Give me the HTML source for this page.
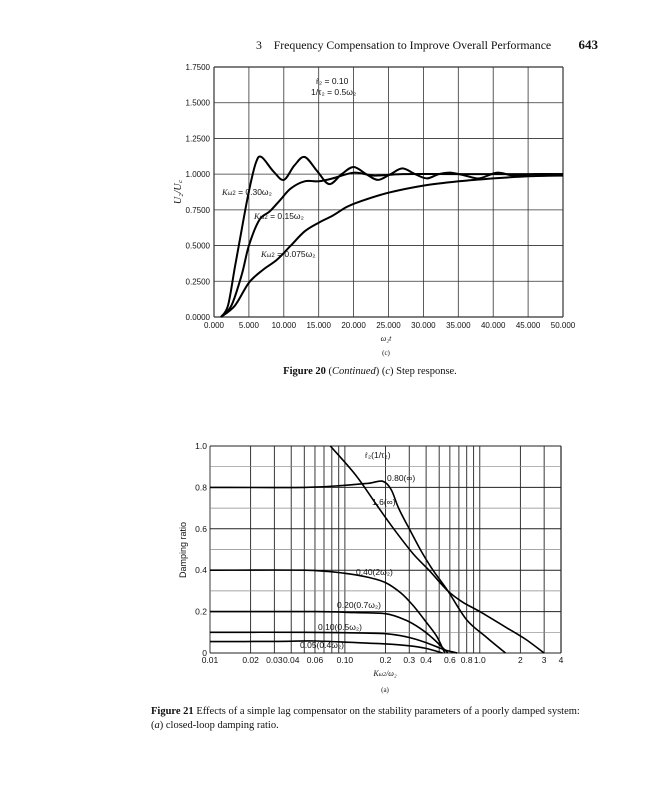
<!DOCTYPE html>
<html><head><meta charset="utf-8"><style>
html,body{margin:0;padding:0;background:#fff;}
svg{display:block;}
text{font-family:"Liberation Sans",sans-serif;fill:#111;}
.serif{font-family:"Liberation Serif",serif;}
</style></head><body>
<svg id="s" width="647" height="800" viewBox="0 0 647 800" xmlns="http://www.w3.org/2000/svg">
<rect width="647" height="800" fill="#fff"/>
<text x="256" y="49" class="serif" font-size="11.8" xml:space="preserve">3    Frequency Compensation to Improve Overall Performance</text>
<text x="598" y="49" class="serif" font-size="13" font-weight="bold" text-anchor="end">643</text>
<g id="top"></g>
<g id="bot"></g>
<text x="316" y="84" font-size="8.5">ṙ₂ = 0.10</text>
<text x="311" y="95" font-size="8.5">1/τ₂ = 0.5ω₂</text>
<text x="222" y="195" font-size="8.5"><tspan font-style="italic" class="serif">K</tspan><tspan font-size="6">ω2</tspan> = 0.30ω₂</text>
<text x="254" y="219" font-size="8.5"><tspan font-style="italic" class="serif">K</tspan><tspan font-size="6">ω2</tspan> = 0.15ω₂</text>
<text x="261" y="257" font-size="8.5"><tspan font-style="italic" class="serif">K</tspan><tspan font-size="6">ω2</tspan> = 0.075ω₂</text>
<text x="181" y="192" font-size="10" class="serif" font-style="italic" transform="rotate(-90 181 192)" text-anchor="middle">U₂/U꜀</text>
<text x="386" y="341" font-size="8" text-anchor="middle" class="serif" font-style="italic">ω₂t</text>
<text x="386" y="355" font-size="7" text-anchor="middle" class="serif">(c)</text>
<text x="370" y="374" font-size="10.5" text-anchor="middle" class="serif"><tspan font-weight="bold">Figure 20</tspan>  (<tspan font-style="italic">Continued</tspan>) (<tspan font-style="italic">c</tspan>) Step response.</text>
<text x="186" y="550" font-size="9" transform="rotate(-90 186 550)" text-anchor="middle">Damping ratio</text>
<text x="365" y="458" font-size="8.5">ṙ₂(1/τ₂)</text>
<text x="387" y="481" font-size="8.5">0.80(∞)</text>
<text x="372" y="505" font-size="8.5">1.6(∞)</text>
<text x="356" y="575" font-size="8.5">0.40(2ω₂)</text>
<text x="337" y="608" font-size="8.5">0.20(0.7ω₂)</text>
<text x="318" y="630" font-size="8.5">0.10(0.5ω₂)</text>
<text x="300" y="648" font-size="8.5">0.05(0.4ω₂)</text>
<text x="385" y="676" font-size="8" text-anchor="middle" class="serif" font-style="italic">K<tspan font-size="6">ω2</tspan>/ω₂</text>
<text x="385" y="692" font-size="7" text-anchor="middle" class="serif">(a)</text>
<text x="151" y="714" font-size="10.5" class="serif"><tspan font-weight="bold">Figure 21</tspan>   Effects of a simple lag compensator on the stability parameters of a poorly damped system:</text>
<text x="151" y="728" font-size="10.5" class="serif">(<tspan font-style="italic">a</tspan>) closed-loop damping ratio.</text>
</svg>
<script>
var NS="http://www.w3.org/2000/svg";
function el(p,t,a,txt){var e=document.createElementNS(NS,t);for(var k in a)e.setAttribute(k,a[k]);if(txt!==undefined)e.textContent=txt;p.appendChild(e);return e;}
function cr(pts){var d="M"+pts[0][0].toFixed(1)+","+pts[0][1].toFixed(1);for(var i=0;i<pts.length-1;i++){var p0=pts[i-1]||pts[i],p1=pts[i],p2=pts[i+1],p3=pts[i+2]||p2;
var c1=[p1[0]+(p2[0]-p0[0])/6,p1[1]+(p2[1]-p0[1])/6],c2=[p2[0]-(p3[0]-p1[0])/6,p2[1]-(p3[1]-p1[1])/6];
d+=" C"+c1[0].toFixed(1)+","+c1[1].toFixed(1)+" "+c2[0].toFixed(1)+","+c2[1].toFixed(1)+" "+p2[0].toFixed(1)+","+p2[1].toFixed(1);}return d;}
var T=document.getElementById("top");
var x0=214,x1=563,y0=317,y1=67;
function tx(t){return x0+(x1-x0)*t/50;} function ty(v){return y0-(y0-y1)*v/1.75;}
for(var i=0;i<=10;i++){el(T,"line",{x1:tx(i*5),x2:tx(i*5),y1:y1,y2:y0,stroke:"#333","stroke-width":i==0||i==10?1.2:0.8});
el(T,"text",{x:tx(i*5),y:328,"font-size":8,"text-anchor":"middle"},(i*5).toFixed(3));}
for(var j=0;j<=7;j++){var v=j*0.25;el(T,"line",{x1:x0,x2:x1,y1:ty(v),y2:ty(v),stroke:"#333","stroke-width":j==0||j==7?1.2:0.8});
el(T,"text",{x:x0-4,y:ty(v)+3,"font-size":8,"text-anchor":"end"},v.toFixed(4));}
var c30=[[1,0],[2,0.08],[3,0.35],[4,0.62],[5,0.88],[6,1.08],[6.8,1.12],[8.5,1.02],[10,0.96],[11.5,1.06],[13,1.12],[14.8,1.02],[16.5,0.93],[18.3,1.0],[20,1.05],[21.8,1.0],[23.5,0.96],[25.3,1.0],[27,1.04],[28.8,1.0],[30.5,0.97],[32.2,1.0],[34,1.01],[36,0.99],[38,0.97],[40.5,1.01],[43,0.99],[46,1.0],[50,1.0]];
var c15=[[1,0],[2.5,0.08],[4,0.3],[5,0.5],[6.5,0.68],[8,0.74],[9.5,0.82],[11,0.9],[13,0.95],[15,0.95],[17,0.97],[20,1.01],[23,0.99],[27,1.0],[35,1.0],[50,1.0]];
var c75=[[1,0],[3,0.08],[5,0.24],[7,0.33],[9,0.4],[11,0.5],[13,0.6],[15,0.66],[17,0.71],[19,0.77],[21,0.81],[25,0.87],[30,0.92],[35,0.95],[40,0.97],[45,0.985],[50,0.99]];
[c30,c15,c75].forEach(function(c){el(T,"path",{d:cr(c.map(function(p){return [tx(p[0]),ty(p[1])];})),fill:"none",stroke:"#000","stroke-width":2});});
var B=document.getElementById("bot");
var bx0=210,bx1=561,by0=653,by1=446;var dec=(bx1-bx0)/Math.log10(400);
function bx(k){return bx0+dec*Math.log10(k/0.01);} function by(z){return by0-(by0-by1)*z;}
[0.01,0.1,1].forEach(function(d){for(var m=1;m<10;m++){var k=d*m;if(k>4.001)return;el(B,"line",{x1:bx(k),x2:bx(k),y1:by1,y2:by0,stroke:"#222","stroke-width":0.9});}});
el(B,"line",{x1:bx1,x2:bx1,y1:by1,y2:by0,stroke:"#222","stroke-width":1.2});
for(var j=0;j<=10;j++){el(B,"line",{x1:bx0,x2:bx1,y1:by(j/10),y2:by(j/10),stroke:j%2?"#888":"#222","stroke-width":j%2?0.7:1});}
["1.0","0.8","0.6","0.4","0.2","0"].forEach(function(s,i){el(B,"text",{x:bx0-3,y:by(1-i*0.2)+3,"font-size":8.5,"text-anchor":"end"},s);});
[[0.01,"0.01"],[0.02,"0.02"],[0.03,"0.03"],[0.04,"0.04"],[0.06,"0.06"],[0.1,"0.10"],[0.2,"0.2"],[0.3,"0.3"],[0.4,"0.4"],[0.6,"0.6"],[0.8,"0.8"],[1.0,"1.0"],[2,"2"],[3,"3"],[4,"4"]].forEach(function(p){el(B,"text",{x:bx(p[0]),y:663,"font-size":8.5,"text-anchor":"middle"},p[1]);});
var curves=[
[[0.078,1],[0.12,0.86],[0.17,0.72],[0.23,0.6],[0.32,0.48],[0.42,0.4],[0.58,0.3],[0.75,0.245],[1.0,0.2],[1.6,0.12],[2.2,0.065],[3.0,0]],
[[0.01,0.8],[0.05,0.8],[0.1,0.81],[0.15,0.82],[0.19,0.83],[0.22,0.79],[0.25,0.7],[0.3,0.6],[0.37,0.49],[0.45,0.4],[0.58,0.3],[0.8,0.16],[1.1,0.08],[1.55,0]],
[[0.01,0.4],[0.05,0.4],[0.1,0.385],[0.15,0.365],[0.2,0.34],[0.26,0.29],[0.32,0.23],[0.4,0.15],[0.48,0.08],[0.55,0]],
[[0.01,0.2],[0.06,0.2],[0.12,0.195],[0.2,0.19],[0.28,0.16],[0.36,0.12],[0.45,0.07],[0.58,0]],
[[0.01,0.1],[0.05,0.1],[0.1,0.098],[0.2,0.093],[0.3,0.075],[0.42,0.045],[0.55,0.015],[0.68,0]],
[[0.01,0.055],[0.03,0.056],[0.06,0.058],[0.12,0.05],[0.2,0.044],[0.3,0.035],[0.4,0.022],[0.53,0]]];
curves.forEach(function(c){el(B,"path",{d:cr(c.map(function(p){return [bx(p[0]),by(p[1])];})),fill:"none",stroke:"#000","stroke-width":1.6});});
</script>
</body></html>
